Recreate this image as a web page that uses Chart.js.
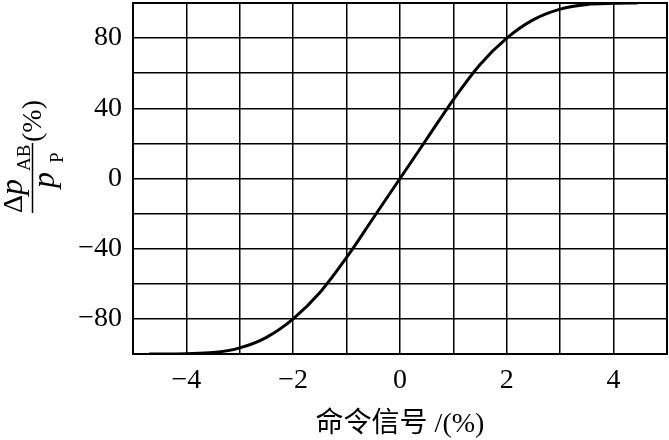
<!DOCTYPE html>
<html>
<head>
<meta charset="utf-8">
<script src="https://cdn.jsdelivr.net/npm/chart.js@4"></script>
<style>
  body { margin: 0; background: #fff; }
  canvas { display: block; }
</style>
</head>
<body>
<canvas id="valveChart" width="669" height="440"></canvas>
<script>
// curve
const commandSignal = [-4.7, -4, -3.5, -3, -2.5, -2, -1.5, -1, -0.5, 0, 0.5, 1, 1.5, 2, 2.5, 3, 3.5, 4, 4.45];
const pressureRatio = [-100, -99.8, -99.2, -96.5, -90.5, -80, -65, -45, -22.5, 0, 22.5, 45, 65, 80, 90.5, 96.5, 99.2, 99.8, 100];
const xTickLabels = [-4, -2, 0, 2, 4];
const yTickLabels = [-80, -40, 0, 40, 80];

const serif = '"Liberation Serif", "Times New Roman", serif';

function signed(v) {
    return v < 0 ? '\u2212' + Math.abs(v) : String(v);
}

// draws the Δp_AB / p_P (%) fraction, rotated
const yTitlePlugin = {
    id: 'yTitle',
    afterDraw(chart) {
        const ctx = chart.ctx;
        ctx.save();
        ctx.translate(0, 213);
        ctx.rotate(-Math.PI / 2);
        ctx.fillStyle = '#000';
        ctx.strokeStyle = '#000';
        ctx.textAlign = 'left';
        ctx.textBaseline = 'alphabetic';

        ctx.font = '28px ' + serif;
        ctx.fillText('\u0394', 0, 22);
        ctx.font = 'italic 32px ' + serif;
        ctx.fillText('p', 18, 22);
        ctx.font = '19px ' + serif;
        ctx.fillText('AB', 42, 30);

        ctx.lineWidth = 1.5;
        ctx.beginPath();
        ctx.moveTo(0, 32.5);
        ctx.lineTo(70, 32.5);
        ctx.stroke();

        ctx.font = 'italic 32px ' + serif;
        ctx.fillText('p', 25, 54);
        ctx.font = '19px ' + serif;
        ctx.fillText('P', 50, 63);

        ctx.font = '28px ' + serif;
        ctx.fillText('(%)', 71, 41);
        ctx.restore();
    }
};

// frame round the plot area
const framePlugin = {
    id: 'frame',
    afterDraw(chart) {
        const a = chart.chartArea;
        const ctx = chart.ctx;
        ctx.save();
        ctx.strokeStyle = '#000';
        ctx.lineWidth = 2;
        ctx.strokeRect(a.left, a.top, a.right - a.left, a.bottom - a.top);
        ctx.restore();
    }
};

const points = commandSignal.map((x, i) => ({ x: x, y: pressureRatio[i] }));

new Chart(document.getElementById('valveChart'), {
    type: 'scatter',
    data: {
        datasets: [{
            data: points,
            showLine: true,
            borderColor: '#000',
            borderWidth: 3,
            pointRadius: 0,
            cubicInterpolationMode: 'monotone',
            fill: false
        }]
    },
    options: {
        responsive: false,
        animation: false,
        events: [],
        layout: { padding: { top: 3, right: 2, left: 0, bottom: 0 } },
        plugins: { legend: { display: false }, tooltip: { enabled: false } },
        scales: {
            x: {
                type: 'linear',
                min: -5,
                max: 5,
                afterFit: s => { s.height = 86; s.paddingLeft = 0; s.paddingRight = 0; },
                grid: { color: '#000', lineWidth: 1.5, drawTicks: false },
                border: { color: '#000', width: 2 },
                ticks: {
                    stepSize: 1,
                    autoSkip: false,
                    maxRotation: 0,
                    padding: 10,
                    color: '#000',
                    font: { family: serif, size: 28 },
                    callback: v => xTickLabels.includes(v) ? signed(v) : ''
                },
                title: {
                    display: true,
                    text: '命令信号 /(%)',
                    color: '#000',
                    font: { family: '"Liberation Serif", "Noto Sans CJK SC", serif', size: 28 },
                    padding: { top: 0, bottom: -1 }
                }
            },
            y: {
                min: -100,
                max: 100,
                afterFit: s => { s.width = 133; s.paddingTop = 0; s.paddingBottom = 0; },
                grid: { color: '#000', lineWidth: 1.5, drawTicks: false },
                border: { color: '#000', width: 2 },
                ticks: {
                    stepSize: 20,
                    autoSkip: false,
                    padding: 11,
                    color: '#000',
                    font: { family: serif, size: 28 },
                    callback: v => yTickLabels.includes(v) ? signed(v) : ''
                }
            }
        }
    },
    plugins: [yTitlePlugin, framePlugin]
});
</script>
</body>
</html>
